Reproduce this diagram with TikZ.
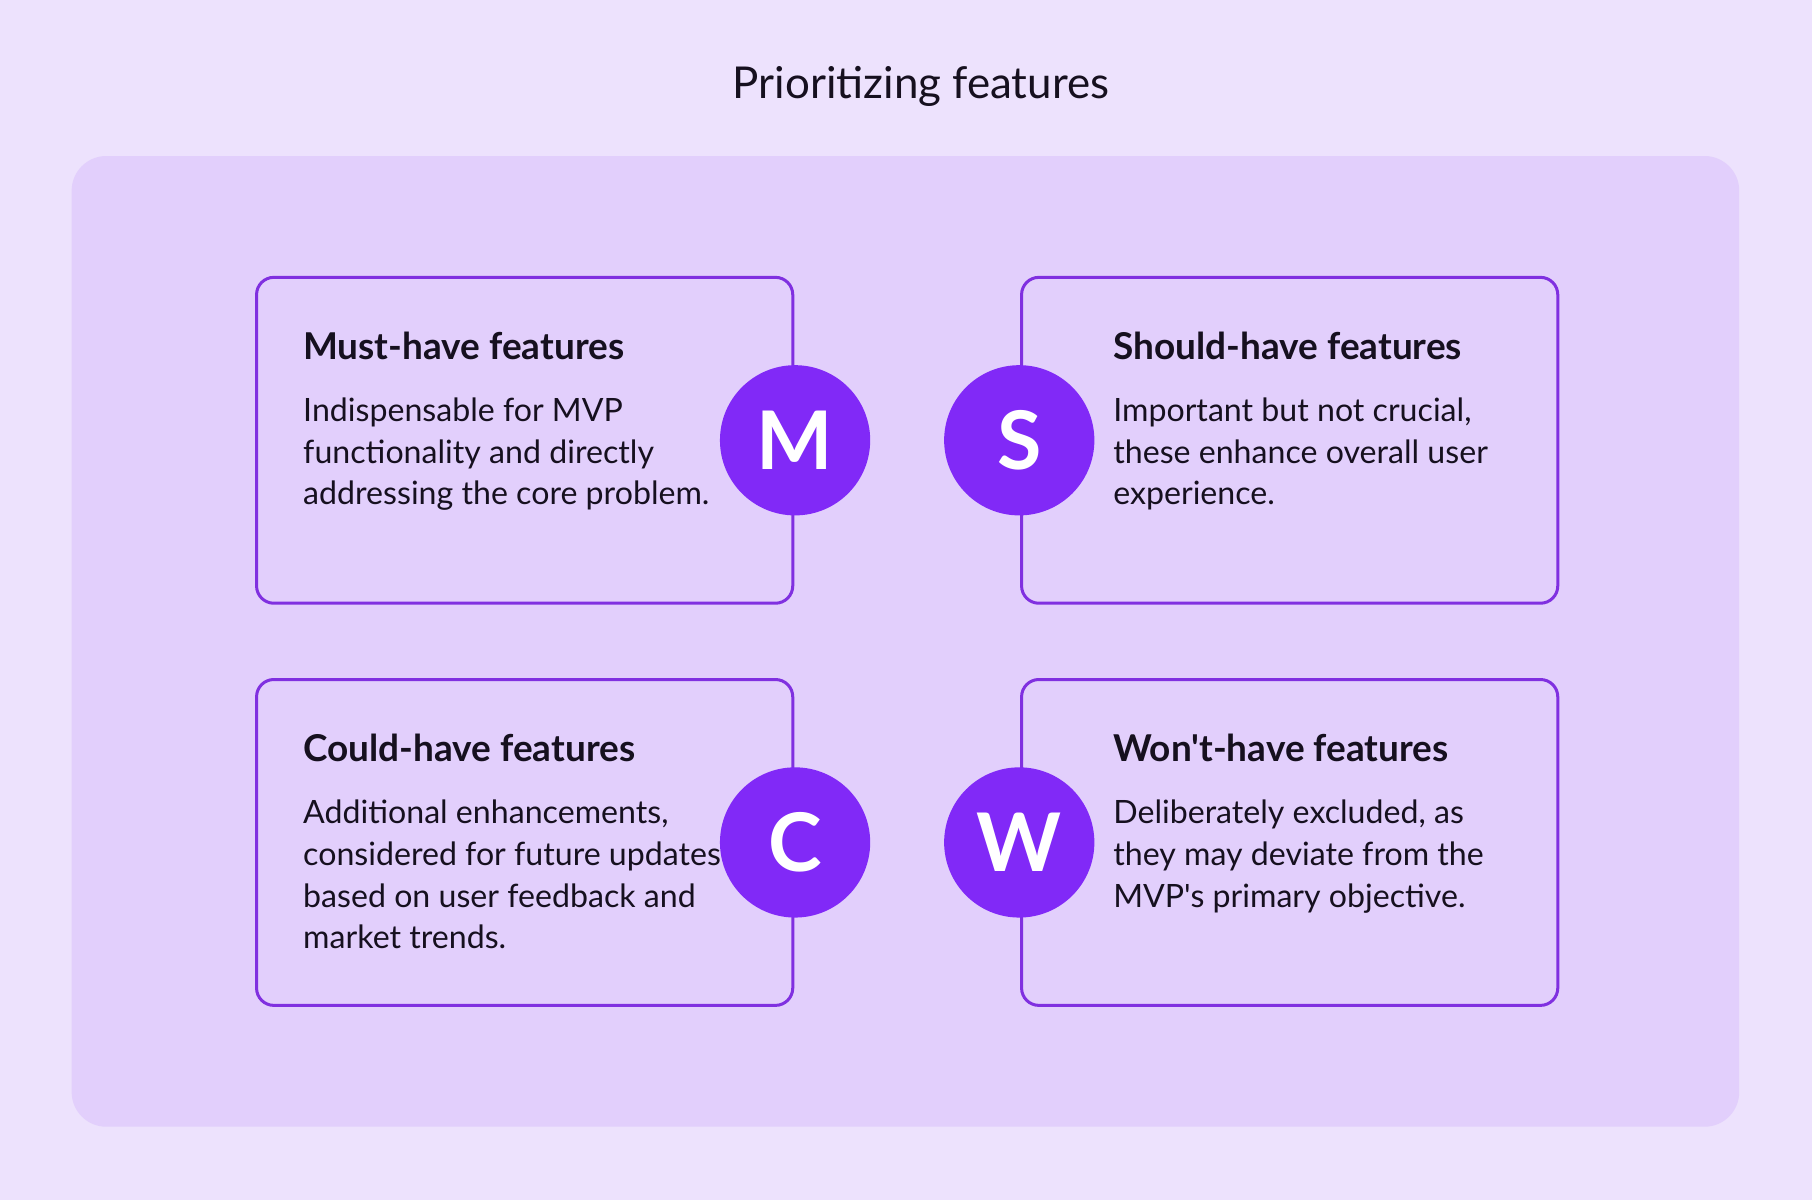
\documentclass[tikz,border=0pt]{standalone}
\usepackage{fontspec}
\setmainfont{Lato}[Ligatures=TeXOff]
\begin{document}
\begin{tikzpicture}[x=0.5pt,y=-0.5pt,
  box/.style={draw=pline,line width=1.3pt,rounded corners=7.5pt,fill=panel},
  circ/.style={circle,fill=pcirc,minimum size=65pt,inner sep=0pt,text=white,font=\fontsize{35}{35}\selectfont\bfseries},
  head/.style={anchor=west,inner sep=0pt,font=\fontsize{16}{19}\selectfont\bfseries,text=ink},
  body/.style={anchor=north west,align=left,font=\fontsize{13.9}{18}\selectfont,text=ink,inner sep=0pt}]
\definecolor{bg}{HTML}{EDE2FD}
\definecolor{panel}{HTML}{E2CFFC}
\definecolor{pline}{HTML}{8030E0}
\definecolor{pcirc}{HTML}{8129F7}
\definecolor{ink}{HTML}{16101F}
\fill[bg] (0,0) rectangle (1568,1038);
\useasboundingbox (0,0) rectangle (1568,1038);
\fill[panel,rounded corners=15pt] (62,135) rectangle (1505,975);
\node[font=\fontsize{19}{22}\selectfont,text=ink] (title) at (797,75) {Prioritizing features};
\draw[box] (222,240) rectangle (686,522);
\draw[box] (884,240) rectangle (1348,522);
\draw[box] (222,588) rectangle (686,870);
\draw[box] (884,588) rectangle (1348,870);
\node[circ] (m) at (688,381) {M};
\node[circ] (s) at (882,381) {S};
\node[circ] (c) at (688,729) {C};
\node[circ] (w) at (882,729) {W};
\node[head] (h1) at (262,299) {Must-have features};
\node[head] (h2) at (963,299) {Should-have features};
\node[head] (h3) at (262,647) {Could-have features};
\node[head] (h4) at (963,647) {Won't-have features};
\node[body] (b1) at (262,344) {Indispensable for MVP\\functionality and directly\\addressing the core problem.};
\node[body] (b2) at (963,344) {Important but not crucial,\\these enhance overall user\\experience.};
\node[body] (b3) at (262,692) {Additional enhancements,\\considered for future updates\\based on user feedback and\\market trends.};
\node[body] (b4) at (963,692) {Deliberately excluded, as\\they may deviate from the\\MVP's primary objective.};
\end{tikzpicture}
\end{document}
